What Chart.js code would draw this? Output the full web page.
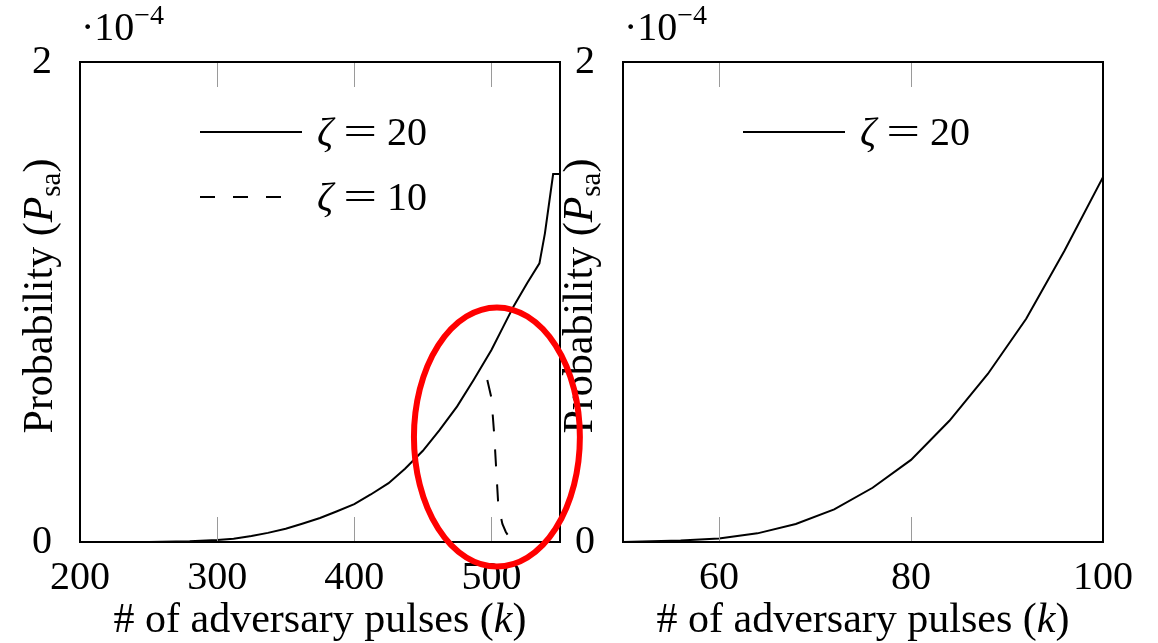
<!DOCTYPE html>
<html>
<head>
<meta charset="utf-8">
<script src="https://cdn.jsdelivr.net/npm/chart.js@4.4.1/dist/chart.umd.min.js"></script>
<style>
  html, body { margin: 0; padding: 0; background: #fff; }
  body { width: 1158px; height: 643px; position: relative; overflow: hidden; }
  .box { position: absolute; top: 0; height: 643px; }
  #leftBox { left: 0; width: 600px; z-index: 2; }
  #rightBox { left: 560px; width: 598px; z-index: 1; }
</style>
</head>
<body>
<div class="box" id="leftBox"><canvas id="leftChart"></canvas></div>
<div class="box" id="rightBox"><canvas id="rightChart"></canvas></div>
<script>
// data (probabilities in units of 10^-4)
const leftK = [200, 250, 280, 300, 312, 325, 337, 350, 362, 375, 387, 400, 412, 425, 437, 450, 462, 475, 487, 500, 508, 516, 526, 535, 539, 545, 550];
const leftZeta20 = [0, 0.0005, 0.003, 0.008, 0.014, 0.025, 0.038, 0.055, 0.076, 0.1, 0.127, 0.158, 0.198, 0.245, 0.305, 0.38, 0.465, 0.565, 0.675, 0.8, 0.89, 0.98, 1.078, 1.161, 1.286, 1.533, 1.533];
const leftK10 = [497, 500, 502, 505, 508, 510.5, 513.5, 515];
const leftZeta10 = [0.675, 0.6, 0.45, 0.154, 0.075, 0.042, 0.015, 0];

const rightK = [50, 52, 56, 60, 64, 68, 72, 76, 80, 84, 88, 92, 96, 100];
const rightZeta20 = [0, 0.002, 0.006, 0.015, 0.036, 0.075, 0.136, 0.226, 0.342, 0.505, 0.70, 0.93, 1.215, 1.52];

const leftXTicks = [200, 300, 400, 500];
const rightXTicks = [60, 80, 100];
const yTicks = [0, 2];

// red highlight ring on the left plot: centre (k, P) and radii in data units
const ring = { k: 504, p: 0.4375, rk: 60.5, rp: 0.54 };

const serif = '"Liberation Serif", "DejaVu Serif", serif';
const fontPx = 40;

function pts(xs, ys) {
    return xs.map((x, i) => ({ x: x, y: ys[i] }));
}

// draws a run of text pieces starting at x, returns end x
function drawPieces(ctx, pieces, x, y) {
    pieces.forEach(p => {
        ctx.font = p.font;
        const sx = p.sx || 1;
        const w = ctx.measureText(p.text).width * sx;
        ctx.save();
        ctx.translate(x + (p.gap || 0), y + (p.dy || 0));
        ctx.scale(sx, 1);
        ctx.fillText(p.text, 0, 0);
        ctx.restore();
        x += w + 2 * (p.gap || 0);
    });
    return x;
}
function piecesWidth(ctx, pieces) {
    let w = 0;
    pieces.forEach(p => { ctx.font = p.font; w += ctx.measureText(p.text).width * (p.sx || 1) + 2 * (p.gap || 0); });
    return w;
}

// frame, inner ticks, legend, axis titles, multiplier
const decor = {
    id: 'decor',
    afterDatasetsDraw(chart, args, opts) {
        const ctx = chart.ctx;
        const a = chart.chartArea;
        const xs = chart.scales.x;
        const ys = chart.scales.y;
        ctx.save();
        // inner tick marks
        ctx.strokeStyle = '#9a9a9a';
        ctx.lineWidth = 1;
        xs.ticks.forEach(t => {
            const px = Math.round(xs.getPixelForValue(t.value)) + 0.5;
            if (px <= a.left + 2 || px >= a.right - 2) return;
            ctx.beginPath();
            ctx.moveTo(px, a.bottom); ctx.lineTo(px, a.bottom - 25);
            ctx.moveTo(px, a.top); ctx.lineTo(px, a.top + 25);
            ctx.stroke();
        });
        // frame
        ctx.strokeStyle = '#000';
        ctx.lineWidth = 2;
        ctx.strokeRect(a.left, a.top, a.right - a.left, a.bottom - a.top);

        ctx.fillStyle = '#000';
        ctx.textBaseline = 'alphabetic';
        ctx.textAlign = 'left';
        const normal = fontPx + 'px ' + serif;
        const italic = 'italic ' + fontPx + 'px ' + serif;
        const big = '42px ' + serif;
        const bigItalic = 'italic 42px ' + serif;
        const small = '28px ' + serif;
        const sub = '29px ' + serif;

        // legend
        chart.data.datasets.forEach((ds, i) => {
            const ly = a.top + 70 + i * 65;
            const lx = a.left + 120;
            ctx.strokeStyle = ds.borderColor;
            ctx.lineWidth = 2;
            ctx.setLineDash(ds.borderDash ? [15, 18] : []);
            ctx.beginPath();
            ctx.moveTo(lx, ly); ctx.lineTo(lx + (ds.borderDash ? 82 : 102), ly);
            ctx.stroke();
            ctx.setLineDash([]);
            const parts = ds.label.split(' = ');
            drawPieces(ctx, [
                { text: parts[0], font: italic },
                { text: '=', font: normal, sx: 1.5, gap: 10 },
                { text: parts[1], font: normal }
            ], lx + 117, ly + 13);
        });

        // multiplier
        drawPieces(ctx, [
            { text: '\u00b710', font: normal },
            { text: '\u22124', font: small, dy: -16 }
        ], a.left + 1, a.top - 22);

        // x title
        const xt = [
            { text: '# of adversary pulses (', font: big },
            { text: 'k', font: bigItalic },
            { text: ')', font: big }
        ];
        const cx = (a.left + a.right) / 2;
        drawPieces(ctx, xt, cx - piecesWidth(ctx, xt) / 2, 632);

        // red ring
        if (opts.ring) {
            const r = opts.ring;
            const ex = xs.getPixelForValue(r.k);
            const ey = ys.getPixelForValue(r.p);
            const erx = xs.getPixelForValue(r.k + r.rk) - ex;
            const ery = ey - ys.getPixelForValue(r.p + r.rp);
            ctx.strokeStyle = '#ff0000';
            ctx.lineWidth = 6;
            ctx.beginPath();
            ctx.ellipse(ex, ey, erx, ery, 0, 0, Math.PI * 2);
            ctx.stroke();
        }

        // y title
        const yt = [
            { text: 'Probability (', font: big },
            { text: 'P', font: bigItalic },
            { text: 'sa', font: sub, dy: 8 },
            { text: ')', font: big }
        ];
        ctx.translate(opts.yTitleX, (a.top + a.bottom) / 2 - 6);
        ctx.rotate(-Math.PI / 2);
        drawPieces(ctx, yt, -piecesWidth(ctx, yt) / 2, 0);
        ctx.restore();
    }
};

function makeOptions(xMin, xMax, xTicks, yWidth, padRight, yTitleX, ringOpt) {
    return {
        responsive: true,
        maintainAspectRatio: false,
        animation: false,
        layout: { padding: { top: 62, right: padRight, left: 0, bottom: 0 } },
        elements: { point: { radius: 0 }, line: { tension: 0, borderWidth: 2 } },
        plugins: {
            legend: { display: false },
            tooltip: { enabled: false },
            decor: { yTitleX: yTitleX, ring: ringOpt }
        },
        scales: {
            x: {
                type: 'linear',
                min: xMin,
                max: xMax,
                afterBuildTicks: s => { s.ticks = xTicks.map(v => ({ value: v })); },
                afterFit: s => { s.height = 101; },
                grid: { display: false, drawTicks: false },
                border: { display: false },
                ticks: { color: '#000', padding: 12, font: { family: serif, size: fontPx } }
            },
            y: {
                min: 0,
                max: 2,
                afterBuildTicks: s => { s.ticks = yTicks.map(v => ({ value: v })); },
                afterFit: s => { s.width = yWidth; },
                grid: { display: false, drawTicks: false },
                border: { display: false },
                ticks: { color: '#000', padding: 28, font: { family: serif, size: fontPx } }
            }
        }
    };
}

new Chart(document.getElementById('leftChart'), {
    type: 'line',
    data: {
        datasets: [
            { label: '\u03b6 = 20', data: pts(leftK, leftZeta20), borderColor: '#000' },
            { label: '\u03b6 = 10', data: pts(leftK10, leftZeta10), borderColor: '#000', borderDash: [17, 18] }
        ]
    },
    options: makeOptions(200, 550, leftXTicks, 80, 40, 52, ring),
    plugins: [decor]
});

new Chart(document.getElementById('rightChart'), {
    type: 'line',
    data: {
        datasets: [
            { label: '\u03b6 = 20', data: pts(rightK, rightZeta20), borderColor: '#000' }
        ]
    },
    options: makeOptions(50, 100, rightXTicks, 63, 55, 32, null),
    plugins: [decor]
});
</script>
</body>
</html>
